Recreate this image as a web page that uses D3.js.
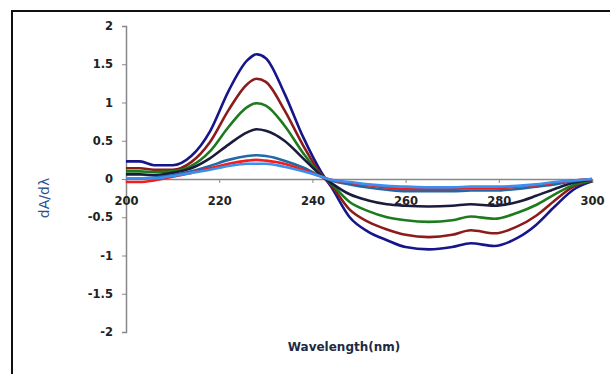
<!doctype html>
<html lang="en">
<head>
    <meta charset="UTF-8">
    <script src="https://d3js.org/d3.v7.min.js"></script>
    <title>dA/dlambda</title>
    <style>
        body { margin: 0; background: #fff; }
    </style>
</head>
<body>
<div class="container"></div>
<script>
    // wavelengths (nm) and derivative values for each curve
    let wavelengths = [200, 203, 206, 210, 214, 218, 222, 226, 228, 230, 234, 238, 242, 244, 248, 252, 256, 260, 265, 270, 274, 279, 284, 288, 292, 296, 300];

    let navy = [0.23, 0.23, 0.18, 0.18, 0.3, 0.62, 1.15, 1.55, 1.63, 1.58, 1.12, 0.55, 0.08, -0.1, -0.5, -0.69, -0.8, -0.89, -0.92, -0.89, -0.84, -0.875, -0.77, -0.6, -0.36, -0.14, -0.03];
    let maroon = [0.14, 0.14, 0.12, 0.12, 0.22, 0.48, 0.9, 1.24, 1.31, 1.27, 0.9, 0.44, 0.05, -0.08, -0.4, -0.56, -0.66, -0.73, -0.76, -0.73, -0.67, -0.71, -0.62, -0.48, -0.28, -0.1, -0.02];
    let green = [0.1, 0.1, 0.09, 0.1, 0.17, 0.36, 0.68, 0.94, 0.99, 0.96, 0.7, 0.34, 0.04, -0.06, -0.3, -0.42, -0.5, -0.54, -0.56, -0.54, -0.49, -0.52, -0.44, -0.34, -0.2, -0.08, -0.02];
    let black = [0.06, 0.06, 0.05, 0.08, 0.14, 0.27, 0.45, 0.61, 0.65, 0.63, 0.5, 0.27, 0.04, -0.05, -0.2, -0.28, -0.33, -0.35, -0.36, -0.35, -0.33, -0.35, -0.3, -0.22, -0.13, -0.05, -0.01];
    let teal = [0.01, 0.01, 0.02, 0.05, 0.1, 0.17, 0.25, 0.3, 0.31, 0.3, 0.24, 0.15, 0.03, -0.02, -0.07, -0.11, -0.14, -0.16, -0.16, -0.16, -0.15, -0.15, -0.13, -0.1, -0.07, -0.03, 0];
    let red = [-0.04, -0.04, -0.02, 0.03, 0.08, 0.14, 0.2, 0.24, 0.25, 0.24, 0.2, 0.12, 0.03, -0.01, -0.05, -0.08, -0.11, -0.13, -0.13, -0.13, -0.12, -0.12, -0.1, -0.08, -0.05, -0.02, 0];
    let lightblue = [0.01, 0.01, 0.01, 0.04, 0.08, 0.12, 0.17, 0.2, 0.2, 0.2, 0.16, 0.1, 0.03, -0.01, -0.04, -0.07, -0.09, -0.1, -0.11, -0.11, -0.1, -0.1, -0.09, -0.07, -0.04, -0.02, 0];

    let series = [navy, maroon, green, black, teal, red, lightblue];
    let colors = ['#16168a', '#8c1c1c', '#1d7a1d', '#1b1b3d', '#1f6aa6', '#f21d1d', '#3b8ff0'];

    let xTicks = [200, 220, 240, 260, 280, 300];
    let yTicks = [-2, -1.5, -1, -0.5, 0, 0.5, 1, 1.5, 2];

    let w = 610, h = 374;
    let svg = d3.select('.container').append('svg')
        .attr('width', w)
        .attr('height', h)
        .style('font-family', '"DejaVu Sans", sans-serif');

    // outer frame (cut off on the right and bottom)
    svg.append('rect')
        .attr('x', 12).attr('y', 11)
        .attr('width', 700).attr('height', 500)
        .attr('fill', 'none')
        .attr('stroke', '#111')
        .attr('stroke-width', 2);

    let x = d3.scaleLinear().domain([200, 300]).range([126, 592]);
    let y = d3.scaleLinear().domain([-2, 2]).range([332, 26]);

    // plain hyphen minus like the original
    let fmt = d => String(d);

    // y axis
    let yAxis = svg.append('g')
        .attr('transform', 'translate(' + x(200) + ',0)')
        .call(d3.axisLeft(y).tickValues(yTicks).tickSize(4).tickPadding(9).tickFormat(fmt));
    yAxis.select('.domain').attr('stroke', '#888').attr('stroke-width', 1.5);
    yAxis.selectAll('.tick line').attr('stroke', '#888');
    yAxis.selectAll('text')
        .attr('fill', '#222')
        .style('font-size', '11.5px')
        .style('font-weight', 'bold')
        .style('font-family', '"DejaVu Sans", sans-serif');

    // x axis on y = 0
    let xAxis = svg.append('g')
        .attr('transform', 'translate(0,' + y(0) + ')')
        .call(d3.axisBottom(x).tickValues(xTicks).tickSize(4).tickPadding(14).tickFormat(fmt));
    xAxis.select('.domain').attr('stroke', '#888').attr('stroke-width', 1.5);
    xAxis.selectAll('.tick line').attr('stroke', '#888');
    xAxis.selectAll('text')
        .attr('fill', '#222')
        .style('font-size', '11.5px')
        .style('font-weight', 'bold')
        .style('font-family', '"DejaVu Sans", sans-serif');

    // curves
    let line = d3.line()
        .x((d, i) => x(wavelengths[i]))
        .y(d => y(d))
        .curve(d3.curveMonotoneX);

    series.forEach(function (s, i) {
        svg.append('path')
            .datum(s)
            .attr('d', line)
            .attr('fill', 'none')
            .attr('stroke', colors[i])
            .attr('stroke-width', 2.6)
            .attr('stroke-linejoin', 'round');
    });

    // axis titles
    svg.append('text')
        .attr('transform', 'translate(49,198) rotate(-90)')
        .attr('text-anchor', 'middle')
        .attr('fill', '#2b4f8f')
        .style('font-size', '14px')
        .text('dA/dλ');

    svg.append('text')
        .attr('x', 344)
        .attr('y', 351)
        .attr('text-anchor', 'middle')
        .attr('fill', '#1e2a44')
        .style('font-size', '12px')
        .style('font-weight', 'bold')
        .text('Wavelength(nm)');
</script>
</body>
</html>
